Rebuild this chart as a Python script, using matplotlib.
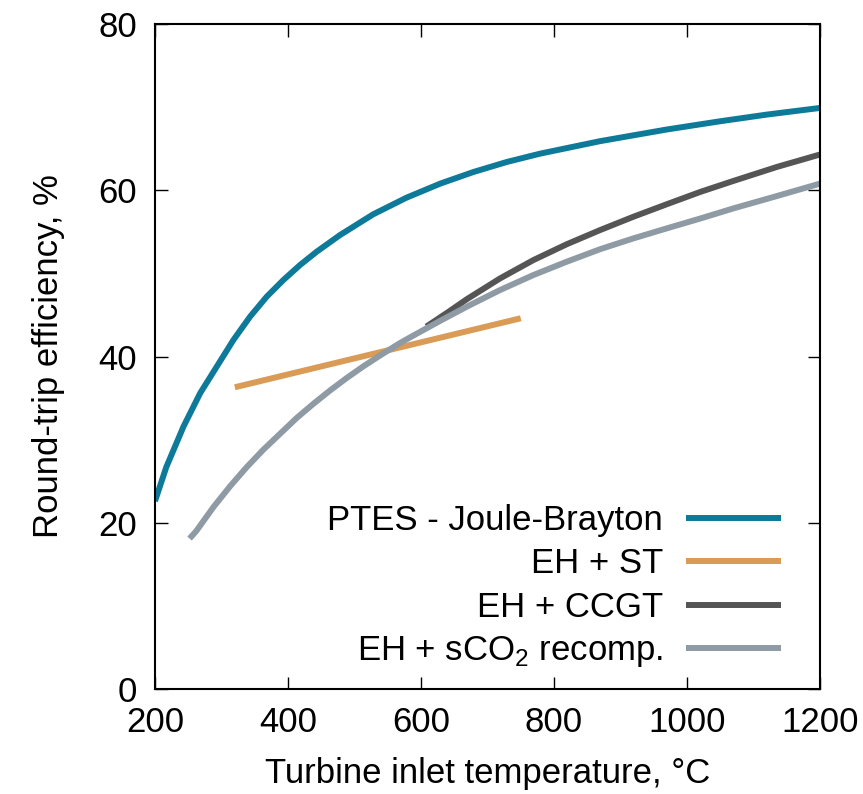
import matplotlib.pyplot as plt

plt.rcParams['font.family'] = ['Liberation Sans', 'DejaVu Sans']
plt.rcParams['mathtext.fontset'] = 'custom'
plt.rcParams['mathtext.rm'] = 'Liberation Sans'

# round-trip efficiency (%) vs turbine inlet temperature (degC)
ptes_t = [200, 217, 243, 268, 293, 318, 343, 368, 393, 418, 443, 478, 528, 578, 629,
          679, 729, 779, 869, 969, 1050, 1120, 1200]
ptes_eff = [22.6, 26.7, 31.6, 35.6, 38.8, 42.0, 44.8, 47.2, 49.2, 51.0, 52.6, 54.6, 57.1,
            59.1, 60.8, 62.2, 63.4, 64.4, 65.9, 67.3, 68.3, 69.1, 69.9]

st_t = [320, 750]
st_eff = [36.3, 44.6]

ccgt_t = [608, 640, 669, 719, 769, 819, 869, 919, 969, 1020, 1069, 1135, 1200]
ccgt_eff = [43.6, 45.3, 46.9, 49.4, 51.6, 53.5, 55.2, 56.8, 58.3, 59.8, 61.1, 62.8, 64.3]

sco2_t = [252, 262, 288, 313, 338, 363, 388, 413, 438, 463, 488, 513, 538, 568, 588,
          629, 669, 719, 769, 819, 869, 919, 969, 1020, 1069, 1135, 1200]
sco2_eff = [18.1, 19.0, 21.9, 24.4, 26.7, 28.8, 30.7, 32.6, 34.3, 35.9, 37.4, 38.8, 40.1,
            41.6, 42.5, 44.3, 46.0, 48.0, 49.8, 51.4, 52.9, 54.2, 55.4, 56.6, 57.8, 59.3, 60.8]

fig = plt.figure(figsize=(8.63, 7.94), dpi=100)
ax = fig.add_axes([0.1796, 0.1322, 0.7706, 0.8376])

lw = 4.3
kw = dict(lw=lw, solid_joinstyle='round', solid_capstyle='butt')
ax.plot(ptes_t, ptes_eff, color='#0e7a99', label='PTES - Joule-Brayton', **kw)
ax.plot(st_t, st_eff, color='#d99b55', label='EH + ST', **kw)
ax.plot(ccgt_t, ccgt_eff, color='#555555', label='EH + CCGT', **kw)
ax.plot(sco2_t, sco2_eff, color='#8e9aa4', label=r'EH + sCO$_2$ recomp.', **kw)

ax.set_xlim(200, 1200)
ax.set_ylim(0, 80)
ax.set_xticks([200, 400, 600, 800, 1000, 1200])
ax.set_yticks([0, 20, 40, 60, 80])
ax.tick_params(axis='both', direction='in', length=9, width=1, top=True, right=True,
               labelsize=25)
ax.tick_params(axis='x', pad=12)
ax.tick_params(axis='y', pad=13)
for s in ax.spines.values():
    s.set_linewidth(1.5)

ax.set_xlabel('Turbine inlet temperature, °C', fontsize=25, labelpad=13)
ax.set_ylabel('Round-trip efficiency, %', fontsize=25, labelpad=24)

ax.legend(loc='lower right', frameon=False, markerfirst=False, fontsize=25,
          handlelength=2.75, handletextpad=0.66, labelspacing=0.3,
          borderpad=0, borderaxespad=0, bbox_to_anchor=(0.942, 0.03))

fig.savefig('out.png', dpi=100)
